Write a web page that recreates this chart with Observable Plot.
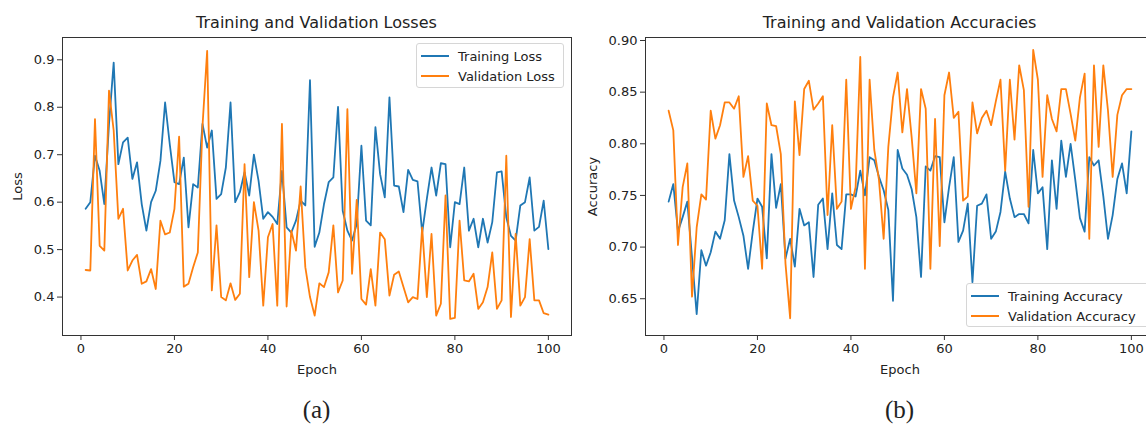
<!DOCTYPE html>
<html>
<head>
<meta charset="utf-8">
<script src="https://cdn.jsdelivr.net/npm/d3@7"></script>
<script src="https://cdn.jsdelivr.net/npm/@observablehq/plot@0.6"></script>
<style>
  html, body { margin: 0; padding: 0; background: #fff; }
  #root { position: relative; width: 1146px; height: 425px; overflow: hidden; background: #fff; font-family: "DejaVu Sans", sans-serif; color: #222; }
  .abs { position: absolute; width: 600px; height: 425px; }
  .abs svg { max-width: none !important; width: 600px; height: 425px; }
  .txt { position: absolute; white-space: nowrap; line-height: 1; transform: translate(-50%, -50%); }
  .legend { position: absolute; border: 1px solid #d6d6d6; border-radius: 3px; background: rgba(255,255,255,0.85); box-sizing: border-box; }
  .legend .sw { position: absolute; height: 0; border-top: 2px solid; }
  .legend .lb { position: absolute; font-size: 13px; line-height: 1; white-space: nowrap; transform: translateY(-50%); color: #222; }
</style>
</head>
<body>
<div id="root"></div>
<script>
// ---------------- data ----------------
const lossTrain = [0.586,0.600,0.698,0.666,0.596,0.765,0.894,0.680,0.726,0.736,
  0.649,0.684,0.596,0.540,0.600,0.624,0.687,0.810,0.722,0.642,
  0.638,0.694,0.547,0.638,0.631,0.765,0.715,0.751,0.607,0.617,
  0.673,0.810,0.600,0.621,0.663,0.614,0.700,0.645,0.565,0.579,
  0.569,0.554,0.666,0.547,0.536,0.561,0.603,0.593,0.857,0.506,
  0.536,0.596,0.642,0.652,0.801,0.582,0.540,0.519,0.554,0.719,
  0.561,0.551,0.758,0.659,0.610,0.821,0.635,0.633,0.579,0.668,
  0.647,0.644,0.536,0.607,0.673,0.614,0.682,0.680,0.505,0.600,
  0.596,0.673,0.540,0.565,0.505,0.565,0.515,0.558,0.663,0.665,
  0.568,0.529,0.519,0.593,0.600,0.652,0.540,0.548,0.603,0.501];
const lossVal = [0.457,0.456,0.775,0.508,0.498,0.835,0.751,0.565,0.586,0.456,
  0.477,0.489,0.428,0.433,0.459,0.417,0.561,0.532,0.536,0.586,
  0.738,0.422,0.428,0.463,0.494,0.760,0.919,0.414,0.551,0.400,
  0.393,0.429,0.394,0.407,0.680,0.442,0.600,0.540,0.382,0.526,
  0.554,0.382,0.765,0.380,0.540,0.498,0.633,0.463,0.400,0.361,
  0.429,0.421,0.452,0.551,0.410,0.435,0.796,0.449,0.605,0.396,
  0.384,0.459,0.382,0.536,0.522,0.403,0.447,0.454,0.421,0.389,
  0.400,0.396,0.547,0.400,0.533,0.361,0.386,0.614,0.354,0.356,
  0.561,0.435,0.433,0.449,0.375,0.389,0.421,0.494,0.375,0.393,
  0.698,0.358,0.533,0.382,0.400,0.522,0.393,0.393,0.366,0.363];
const accTrain = [0.744,0.761,0.715,0.729,0.744,0.690,0.635,0.697,0.682,0.695,
  0.715,0.708,0.726,0.790,0.745,0.729,0.711,0.679,0.715,0.747,
  0.739,0.689,0.790,0.738,0.761,0.689,0.708,0.681,0.737,0.721,
  0.724,0.671,0.741,0.747,0.698,0.752,0.702,0.698,0.751,0.751,
  0.749,0.774,0.750,0.787,0.784,0.768,0.755,0.736,0.648,0.794,
  0.776,0.770,0.756,0.729,0.671,0.778,0.774,0.788,0.787,0.724,
  0.758,0.787,0.705,0.716,0.742,0.666,0.740,0.742,0.751,0.708,
  0.715,0.734,0.773,0.747,0.729,0.732,0.732,0.723,0.794,0.752,
  0.758,0.698,0.784,0.737,0.803,0.768,0.800,0.765,0.728,0.715,
  0.787,0.779,0.784,0.749,0.708,0.731,0.766,0.781,0.752,0.812];
const accVal = [0.832,0.813,0.702,0.758,0.781,0.652,0.719,0.751,0.746,0.832,
  0.805,0.818,0.840,0.840,0.834,0.846,0.768,0.788,0.745,0.740,
  0.679,0.839,0.818,0.817,0.790,0.684,0.631,0.841,0.789,0.853,
  0.861,0.833,0.839,0.846,0.731,0.818,0.737,0.744,0.862,0.737,
  0.758,0.884,0.679,0.862,0.794,0.765,0.708,0.797,0.845,0.869,
  0.811,0.853,0.806,0.752,0.853,0.834,0.679,0.824,0.701,0.847,
  0.869,0.825,0.831,0.745,0.749,0.840,0.810,0.825,0.832,0.818,
  0.841,0.862,0.774,0.862,0.804,0.876,0.852,0.739,0.891,0.862,
  0.768,0.847,0.824,0.812,0.853,0.853,0.829,0.803,0.845,0.868,
  0.708,0.876,0.797,0.876,0.832,0.768,0.828,0.847,0.853,0.853];

const epochTicks = [0, 20, 40, 60, 80, 100];
const lossTicks = [0.4, 0.5, 0.6, 0.7, 0.8, 0.9];
const accTicks = [0.65, 0.70, 0.75, 0.80, 0.85, 0.90];
const lossLabels = ["Training Loss", "Validation Loss"];
const accLabels = ["Training Accuracy", "Validation Accuracy"];
const titles = ["Training and Validation Losses", "Training and Validation Accuracies"];
const captions = ["(a)", "(b)"];
const colors = ["#1f77b4", "#ff7f0e"];

// ---------------- helpers ----------------
const root = document.getElementById("root");
const toRows = arr => arr.map((v, i) => ({epoch: i + 1, value: v}));

function panel({left, yDomain, yTicks, yFormat, yLabel, yLabelOffset, train, val}) {
  const svg = Plot.plot({
    width: 600, height: 425,
    marginLeft: 62, marginRight: 29, marginTop: 37, marginBottom: 90,
    style: {background: "transparent", fontFamily: "DejaVu Sans, sans-serif", fontSize: "13px", color: "#222", overflow: "visible", maxWidth: "none"},
    x: {domain: [-3.95, 104.95]},
    y: {domain: yDomain},
    marks: [
      Plot.line(toRows(train), {x: "epoch", y: "value", stroke: colors[0], strokeWidth: 1.8}),
      Plot.line(toRows(val), {x: "epoch", y: "value", stroke: colors[1], strokeWidth: 1.8}),
      Plot.frame({stroke: "#333", strokeWidth: 1}),
      Plot.axisX({ticks: epochTicks, tickFormat: d3.format("d"), tickSize: 5, tickPadding: 3,
        label: "Epoch", labelAnchor: "center", labelArrow: "none", labelOffset: 38, stroke: "#333"}),
      Plot.axisY({ticks: yTicks, tickFormat: d3.format(yFormat), tickSize: 5, tickPadding: 3,
        label: yLabel, labelAnchor: "center", labelArrow: "none", labelOffset: yLabelOffset, stroke: "#333"})
    ]
  });
  const wrap = document.createElement("div");
  wrap.className = "abs";
  wrap.style.left = left + "px";
  wrap.style.top = "0px";
  wrap.appendChild(svg);
  root.appendChild(wrap);
}

function text(str, cx, cy, size, family) {
  const d = document.createElement("div");
  d.className = "txt";
  d.textContent = str;
  d.style.left = cx + "px";
  d.style.top = cy + "px";
  d.style.fontSize = size + "px";
  if (family) d.style.fontFamily = family;
  root.appendChild(d);
}

function legend(labels, x, y, w, h) {
  const box = document.createElement("div");
  box.className = "legend";
  box.style.left = x + "px"; box.style.top = y + "px";
  box.style.width = w + "px"; box.style.height = h + "px";
  labels.forEach((lab, i) => {
    const cy = 12 + i * 20;
    const sw = document.createElement("div");
    sw.className = "sw";
    sw.style.left = "4px"; sw.style.width = "28px"; sw.style.top = (cy - 1) + "px";
    sw.style.borderTopColor = colors[i];
    box.appendChild(sw);
    const lb = document.createElement("div");
    lb.className = "lb";
    lb.textContent = lab;
    lb.style.left = "41px"; lb.style.top = cy + "px";
    box.appendChild(lb);
  });
  root.appendChild(box);
}

// ---------------- panels ----------------
panel({left: 0, yDomain: [0.319, 0.947], yTicks: lossTicks, yFormat: ".1f", yLabel: "Loss", yLabelOffset: 50, train: lossTrain, val: lossVal});
panel({left: 583, yDomain: [0.6144, 0.9029], yTicks: accTicks, yFormat: ".2f", yLabel: "Accuracy", yLabelOffset: 58, train: accTrain, val: accVal});

text(titles[0], 316.5, 23, 16);
text(titles[1], 899.5, 23, 16);
text(captions[0], 316.5, 409, 25, "Liberation Serif, serif");
text(captions[1], 899.5, 409, 25, "Liberation Serif, serif");

legend(lossLabels, 416, 43, 148, 45);
legend(accLabels, 966, 283, 200, 44);
</script>
</body>
</html>
